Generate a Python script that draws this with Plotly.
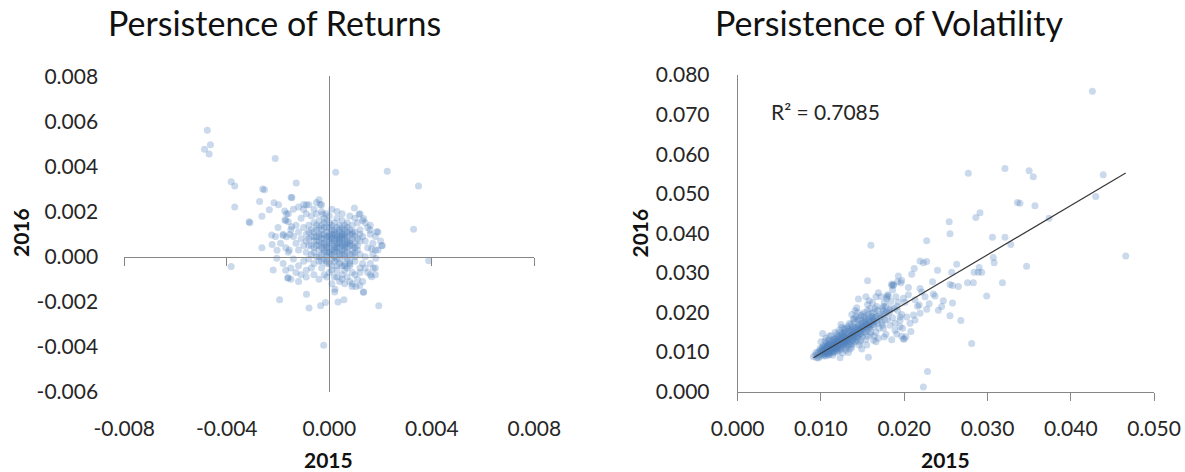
import plotly.graph_objects as go

# ---------------- data: returns (2015 vs 2016) ----------------
ret_outliers = [
    (-0.00476, 0.00561), (-0.00464, 0.00496), (-0.00487, 0.00476), (-0.00469, 0.00455),
    (-0.00211, 0.00436), (0.00025, 0.00374), (0.00226, 0.00379), (0.00348, 0.00313),
    (-0.00383, 0.00332), (-0.00369, 0.00313), (-0.00129, 0.00327), (-0.00260, 0.00300),
    (-0.00253, 0.00297), (-0.00149, 0.00264), (-0.00146, 0.00261), (-0.00369, 0.00220),
    (-0.00272, 0.00245), (-0.00310, 0.00151), (-0.00263, 0.00179), (-0.00234, 0.00208),
    (-0.00216, 0.00239), (-0.00198, 0.00230), (-0.00174, 0.00203), (-0.00167, 0.00191),
    (-0.00100, 0.00232), (-0.00089, 0.00230), (-0.00040, 0.00252), (-0.00036, 0.00232),
    (-0.00025, 0.00188), (-0.00012, 0.00191), (0.00098, 0.00216), (0.00116, 0.00188),
    (0.00134, 0.00169), (0.00329, 0.00122), (0.00207, 0.00050), (0.00388, -0.00018),
    (-0.00383, -0.00044), (-0.00263, 0.00040), (-0.00223, 0.00054), (-0.00204, 0.00029),
    (-0.00205, -0.00007), (-0.00219, -0.00059), (-0.00161, -0.00095), (-0.00194, -0.00191),
    (-0.00089, -0.00166), (-0.00079, -0.00228), (-0.00034, -0.00217), (-0.00015, -0.00203),
    (-0.00022, -0.00393), (0.00034, -0.00201), (0.00057, -0.00191), (0.00193, -0.00217),
    (0.00134, -0.00156), (0.00022, -0.00144), (0.00021, -0.00157), (0.00089, -0.00132),
    (0.00104, -0.00132), (0.00119, -0.00128), (-0.00313, 0.00155), (-0.00225, 0.00096),
    (-0.00180, 0.00094), (-0.00167, 0.00088), (-0.00154, 0.00098), (-0.00173, 0.00163),
    (-0.00160, 0.00155), (-0.00147, 0.00133), (-0.00156, 0.00030), (-0.00162, -0.00093),
    (0.00133, -0.00158), (0.00165, -0.00089), (0.00172, -0.00051), (0.00181, -0.00007),
    (0.00204, 0.00049), (0.00165, 0.00034), (0.00185, 0.00111), (0.00159, 0.00118),
]
ret_core = [
    (0.0000, 0.0007), (0.0001, 0.0009), (0.0002, 0.0005), (0.0003, 0.0008), (0.0004, 0.0006),
    (0.0005, 0.0010), (0.0006, 0.0004), (0.0007, 0.0007), (-0.0001, 0.0005), (-0.0002, 0.0008),
    (-0.0003, 0.0006), (-0.0004, 0.0010), (-0.0005, 0.0007), (-0.0006, 0.0004), (0.0001, 0.0003),
    (0.0002, 0.0012), (0.0003, 0.0002), (0.0004, 0.0011), (0.0005, 0.0003), (0.0006, 0.0009),
    (0.0008, 0.0005), (0.0009, 0.0008), (-0.0001, 0.0011), (-0.0002, 0.0002), (-0.0003, 0.0010),
    (-0.0004, 0.0003), (-0.0005, 0.0012), (-0.0007, 0.0009), (0.0000, 0.0001), (0.0001, 0.0014),
    (0.0002, 0.0000), (0.0003, 0.0013), (0.0004, 0.0001), (0.0005, 0.0006), (0.0006, 0.0012),
    (0.0007, 0.0002), (0.0008, 0.0010), (0.0009, 0.0003), (0.0010, 0.0006), (-0.0001, 0.0002),
    (-0.0002, 0.0013), (-0.0003, 0.0001), (-0.0004, 0.0007), (-0.0006, 0.0011), (-0.0007, 0.0005),
    (-0.0008, 0.0008), (0.0000, 0.0010), (0.0002, 0.0008), (0.0003, 0.0005), (0.0004, 0.0009),
    (0.0006, 0.0006), (0.0007, 0.0011), (0.0008, 0.0001), (0.0001, 0.0006), (-0.0001, 0.0008),
    (-0.0002, 0.0005), (0.0000, 0.0004), (0.0003, 0.0010), (0.0005, 0.0008), (0.0007, 0.0004),
    (0.0002, 0.0003), (0.0004, 0.0004), (-0.0003, 0.0004), (-0.0005, 0.0005), (0.0006, 0.0001),
    (0.0009, 0.0011), (0.0010, 0.0002), (0.0011, 0.0008), (-0.0006, 0.0007), (-0.0009, 0.0010),
    (0.0000, 0.0013), (0.0001, -0.0001), (0.0003, -0.0001), (0.0005, 0.0013), (-0.0004, 0.0013),
    (-0.0002, -0.0001), (0.0008, 0.0007), (0.0006, 0.0003), (0.0002, 0.0010), (-0.0001, 0.0000),
    (0.0008, -0.0004), (0.0006, -0.0006), (0.0004, -0.0003), (0.0009, -0.0007), (0.0010, -0.0002),
    (0.0012, -0.0005), (0.0007, -0.0009), (0.0005, -0.0008), (0.0003, -0.0006), (0.0001, -0.0004),
    (-0.0001, -0.0003), (0.0002, -0.0009), (0.0011, -0.0010), (0.0013, -0.0003), (0.0014, 0.0000),
    (0.0015, 0.0004), (0.0013, 0.0009), (0.0012, 0.0012), (0.0011, 0.0015), (0.0010, 0.0004),
    (0.0012, 0.0001), (0.0014, 0.0007), (0.0016, 0.0010), (0.0009, 0.0014), (0.0007, 0.0015),
    (0.0005, 0.0016), (0.0003, 0.0017), (0.0000, 0.0018), (-0.0002, 0.0017), (-0.0004, 0.0016),
    (-0.0006, 0.0015), (-0.0008, 0.0014), (-0.0010, 0.0013), (-0.0012, 0.0011), (-0.0011, 0.0008),
    (-0.0013, 0.0006), (-0.0010, 0.0005), (-0.0009, 0.0002), (-0.0012, 0.0003), (-0.0014, 0.0009),
    (-0.0015, 0.0012), (-0.0013, 0.0014), (-0.0011, 0.0017), (-0.0009, 0.0019), (-0.0007, 0.0018),
    (-0.0005, 0.0019), (-0.0003, 0.0020), (-0.0001, 0.0016), (-0.0007, 0.0001), (-0.0005, 0.0000),
    (-0.0008, -0.0001), (-0.0006, -0.0003), (-0.0004, -0.0002), (-0.0003, -0.0005), (-0.0010, -0.0002),
    (-0.0012, -0.0004), (-0.0014, -0.0001), (-0.0016, 0.0002), (-0.0009, -0.0006), (-0.0011, -0.0008),
    (-0.0013, -0.0007), (-0.0007, -0.0005), (0.0000, -0.0007), (-0.0002, -0.0008), (0.0004, -0.0011),
    (0.0006, -0.0012), (0.0008, -0.0011), (0.0010, -0.0008), (0.0012, -0.0007), (0.0014, -0.0005),
    (0.0016, -0.0003), (0.0017, 0.0001), (0.0017, 0.0006), (0.0015, 0.0013), (0.0013, 0.0016),
    (0.0018, 0.0009), (0.0018, -0.0008), (0.0016, -0.0008), (0.0019, 0.0003), (0.0001, -0.0012),
    (-0.0017, 0.0016), (-0.0018, 0.0010), (-0.0019, 0.0006), (-0.0016, 0.0019), (-0.0014, 0.0021),
    (-0.0012, 0.0022), (-0.0010, 0.0021), (-0.0008, 0.0023), (-0.0006, 0.0021), (-0.0005, 0.0024),
    (-0.0003, 0.0023), (0.0001, 0.0021), (0.0003, 0.0020), (0.0005, 0.0019), (0.0008, 0.0018),
    (0.0010, 0.0017), (0.0012, 0.0019), (0.0014, 0.0015), (0.0016, 0.0014), (0.0019, 0.0011),
    (-0.0017, 0.0004), (-0.0018, -0.0003), (-0.0015, -0.0005), (-0.0017, -0.0006), (-0.0015, -0.0010),
    (-0.0012, -0.0011), (-0.0009, -0.0009), (-0.0006, -0.0008), (-0.0004, -0.0010), (-0.0001, -0.0009),
    (0.0003, -0.0009), (0.0005, -0.0010), (0.0009, -0.0012), (0.0013, -0.0011), (0.0015, -0.0007),
    (0.0018, -0.0005), (0.0018, 0.0003), (0.0020, 0.0007), (-0.0020, 0.0013), (-0.0021, 0.0009),
]
ret_dense = [
    (0.0001, 0.0008), (0.0002, 0.0007), (0.0003, 0.0009), (0.0004, 0.0007), (0.0005, 0.0009),
    (0.0006, 0.0008), (0.0007, 0.0009), (0.0008, 0.0006), (0.0002, 0.0011), (0.0004, 0.0012),
    (0.0006, 0.0010), (0.0001, 0.0012), (0.0003, 0.0004), (0.0005, 0.0005), (0.0007, 0.0006),
    (0.0009, 0.0005), (0.0000, 0.0006), (-0.0001, 0.0009), (-0.0002, 0.0010), (-0.0003, 0.0008),
    (-0.0004, 0.0009), (-0.0005, 0.0009), (-0.0006, 0.0009), (-0.0004, 0.0005), (-0.0002, 0.0006),
    (-0.0001, 0.0004), (0.0000, 0.0002), (0.0001, 0.0001), (0.0002, 0.0002), (0.0004, 0.0002),
    (0.0005, 0.0001), (0.0006, 0.0000), (0.0007, -0.0001), (0.0008, -0.0002), (0.0006, -0.0003),
    (0.0005, -0.0004), (0.0007, -0.0005), (0.0006, -0.0004), (0.0008, -0.0003), (0.0004, -0.0001),
    (0.0002, -0.0002), (0.0009, 0.0001), (0.0010, 0.0000), (0.0011, 0.0003), (0.0011, 0.0005),
    (0.0012, 0.0007), (0.0010, 0.0009), (0.0009, 0.0010), (0.0008, 0.0012), (0.0006, 0.0014),
    (0.0004, 0.0014), (0.0002, 0.0015), (0.0000, 0.0015), (-0.0002, 0.0015), (-0.0003, 0.0014),
    (-0.0005, 0.0014), (-0.0007, 0.0012), (-0.0008, 0.0011), (-0.0009, 0.0007), (-0.0008, 0.0005),
    (-0.0006, 0.0002), (-0.0004, 0.0000), (-0.0003, -0.0002), (-0.0001, -0.0002), (0.0000, -0.0003),
    (0.0001, -0.0006), (0.0003, -0.0004), (-0.0002, 0.0003), (-0.0003, 0.0012), (0.0001, 0.0010),
    (0.0003, 0.0006), (0.0005, 0.0011), (0.0007, 0.0013), (0.0010, 0.0011), (0.0012, 0.0010),
    (-0.0001, 0.0013), (0.0000, 0.0009), (0.0002, 0.0004), (0.0004, 0.0008), (0.0006, 0.0005),
]

# ---------------- data: volatility (2015 vs 2016) ----------------
vol_outliers = [
    (0.0426, 0.0759), (0.0439, 0.0548), (0.0430, 0.0493), (0.0466, 0.0343), (0.0281, 0.0122),
    (0.0228, 0.0051), (0.0223, 0.0012), (0.0277, 0.0552), (0.0321, 0.0564), (0.0350, 0.0558),
    (0.0355, 0.0543), (0.0336, 0.0478), (0.0339, 0.0476), (0.0357, 0.0470), (0.0374, 0.0438),
    (0.0291, 0.0452), (0.0286, 0.0440), (0.0254, 0.0429), (0.0255, 0.0399), (0.0227, 0.0381),
    (0.0306, 0.0390), (0.0321, 0.0390), (0.0328, 0.0372), (0.0307, 0.0339), (0.0308, 0.0326),
    (0.0347, 0.0317), (0.0290, 0.0314), (0.0289, 0.0302), (0.0293, 0.0302), (0.0284, 0.0302),
    (0.0263, 0.0322), (0.0257, 0.0302), (0.0240, 0.0307), (0.0276, 0.0275), (0.0283, 0.0275),
    (0.0318, 0.0275), (0.0299, 0.0242), (0.0255, 0.0271), (0.0265, 0.0266), (0.0258, 0.0268),
    (0.0258, 0.0224), (0.0255, 0.0192), (0.0268, 0.0180), (0.0160, 0.0370), (0.0156, 0.0280),
    (0.0157, 0.0087), (0.0234, 0.0278),
]
vol_mid = [
    (0.0227, 0.0329), (0.0223, 0.0326), (0.0219, 0.0330), (0.0212, 0.0311), (0.0209, 0.0297),
    (0.0193, 0.0292), (0.0197, 0.0281), (0.0219, 0.0261), (0.0187, 0.0269), (0.0186, 0.0257),
    (0.0205, 0.0263), (0.0235, 0.0247), (0.0237, 0.0242), (0.0225, 0.0240), (0.0199, 0.0236),
    (0.0181, 0.0242), (0.0247, 0.0230), (0.0216, 0.0216), (0.0218, 0.0219), (0.0230, 0.0222),
    (0.0241, 0.0206), (0.0227, 0.0208), (0.0245, 0.0215), (0.0185, 0.0272), (0.0192, 0.0278),
    (0.0179, 0.0240), (0.0175, 0.0215), (0.0183, 0.0206), (0.0191, 0.0215), (0.0195, 0.0189),
    (0.0203, 0.0189), (0.0211, 0.0194), (0.0189, 0.0173), (0.0207, 0.0173), (0.0213, 0.0181),
    (0.0177, 0.0181), (0.0195, 0.0164), (0.0219, 0.0198), (0.0213, 0.0232), (0.0205, 0.0245),
    (0.0221, 0.0252), (0.0201, 0.0226), (0.0208, 0.0152), (0.0197, 0.0140),
]
vol_core = [
    (0.0091, 0.0088), (0.0093, 0.0092), (0.0095, 0.0086), (0.0096, 0.0095), (0.0097, 0.0101),
    (0.0098, 0.0089), (0.0099, 0.0110), (0.0100, 0.0093), (0.0094, 0.0099), (0.0100, 0.0126),
    (0.0099, 0.0104), (0.0097, 0.0085), (0.0102, 0.0147), (0.0101, 0.0098), (0.0103, 0.0090),
    (0.0104, 0.0105), (0.0105, 0.0096), (0.0106, 0.0112), (0.0107, 0.0100), (0.0108, 0.0118),
    (0.0109, 0.0093), (0.0105, 0.0128), (0.0106, 0.0135), (0.0108, 0.0107), (0.0110, 0.0101),
    (0.0103, 0.0117), (0.0107, 0.0124), (0.0109, 0.0113), (0.0110, 0.0140), (0.0104, 0.0109),
    (0.0108, 0.0097), (0.0110, 0.0119), (0.0106, 0.0090), (0.0102, 0.0112), (0.0109, 0.0130),
    (0.0111, 0.0108), (0.0105, 0.0102), (0.0107, 0.0115), (0.0110, 0.0094), (0.0103, 0.0097),
    (0.0112, 0.0104), (0.0113, 0.0121), (0.0114, 0.0112), (0.0115, 0.0098), (0.0116, 0.0127),
    (0.0117, 0.0110), (0.0118, 0.0135), (0.0119, 0.0117), (0.0120, 0.0103), (0.0112, 0.0142),
    (0.0114, 0.0131), (0.0116, 0.0106), (0.0118, 0.0122), (0.0120, 0.0128), (0.0113, 0.0100),
    (0.0115, 0.0116), (0.0117, 0.0150), (0.0119, 0.0108), (0.0121, 0.0139), (0.0111, 0.0123),
    (0.0114, 0.0092), (0.0116, 0.0119), (0.0118, 0.0101), (0.0120, 0.0116), (0.0112, 0.0114),
    (0.0115, 0.0133), (0.0117, 0.0125), (0.0119, 0.0145), (0.0121, 0.0111), (0.0113, 0.0108),
    (0.0122, 0.0120), (0.0123, 0.0132), (0.0124, 0.0108), (0.0125, 0.0140), (0.0126, 0.0125),
    (0.0127, 0.0115), (0.0128, 0.0150), (0.0129, 0.0131), (0.0130, 0.0120), (0.0122, 0.0155),
    (0.0124, 0.0128), (0.0126, 0.0098), (0.0128, 0.0137), (0.0130, 0.0144), (0.0123, 0.0113),
    (0.0125, 0.0162), (0.0127, 0.0127), (0.0129, 0.0110), (0.0131, 0.0135), (0.0122, 0.0104),
    (0.0124, 0.0170), (0.0126, 0.0146), (0.0128, 0.0122), (0.0130, 0.0105), (0.0123, 0.0086),
    (0.0125, 0.0118), (0.0127, 0.0140), (0.0129, 0.0158), (0.0131, 0.0126), (0.0124, 0.0135),
    (0.0132, 0.0130), (0.0133, 0.0145), (0.0134, 0.0120), (0.0135, 0.0155), (0.0136, 0.0138),
    (0.0137, 0.0112), (0.0138, 0.0165), (0.0139, 0.0148), (0.0140, 0.0127), (0.0132, 0.0160),
    (0.0134, 0.0139), (0.0136, 0.0118), (0.0138, 0.0150), (0.0140, 0.0175), (0.0133, 0.0128),
    (0.0135, 0.0108), (0.0137, 0.0143), (0.0139, 0.0183), (0.0141, 0.0136), (0.0132, 0.0115),
    (0.0134, 0.0172), (0.0136, 0.0153), (0.0138, 0.0130), (0.0140, 0.0158), (0.0133, 0.0099),
    (0.0137, 0.0195), (0.0139, 0.0122), (0.0141, 0.0205), (0.0142, 0.0148), (0.0143, 0.0160),
    (0.0144, 0.0135), (0.0145, 0.0170), (0.0146, 0.0152), (0.0147, 0.0125), (0.0148, 0.0180),
    (0.0149, 0.0162), (0.0150, 0.0140), (0.0142, 0.0190), (0.0144, 0.0157), (0.0146, 0.0118),
    (0.0148, 0.0145), (0.0150, 0.0195), (0.0143, 0.0212), (0.0145, 0.0140), (0.0147, 0.0167),
    (0.0149, 0.0108), (0.0151, 0.0175), (0.0142, 0.0128), (0.0144, 0.0200), (0.0146, 0.0185),
    (0.0148, 0.0130), (0.0150, 0.0160), (0.0145, 0.0234), (0.0152, 0.0165), (0.0153, 0.0150),
    (0.0154, 0.0185), (0.0155, 0.0172), (0.0156, 0.0140), (0.0157, 0.0195), (0.0158, 0.0160),
    (0.0159, 0.0210), (0.0160, 0.0178), (0.0152, 0.0200), (0.0154, 0.0132), (0.0156, 0.0220),
    (0.0158, 0.0188), (0.0160, 0.0150), (0.0153, 0.0177), (0.0155, 0.0118), (0.0157, 0.0168),
    (0.0159, 0.0145), (0.0161, 0.0198), (0.0154, 0.0240), (0.0156, 0.0162), (0.0158, 0.0230),
    (0.0162, 0.0180), (0.0163, 0.0165), (0.0164, 0.0200), (0.0165, 0.0188), (0.0166, 0.0150),
    (0.0167, 0.0215), (0.0168, 0.0172), (0.0169, 0.0135), (0.0170, 0.0195), (0.0162, 0.0225),
    (0.0164, 0.0140), (0.0166, 0.0240), (0.0168, 0.0205), (0.0170, 0.0160), (0.0163, 0.0130),
    (0.0165, 0.0210), (0.0167, 0.0178), (0.0169, 0.0250), (0.0164, 0.0183), (0.0166, 0.0126),
    (0.0172, 0.0190), (0.0173, 0.0175), (0.0174, 0.0210), (0.0175, 0.0160), (0.0176, 0.0225),
    (0.0177, 0.0198), (0.0178, 0.0145), (0.0179, 0.0235), (0.0180, 0.0183), (0.0172, 0.0240),
    (0.0174, 0.0168), (0.0176, 0.0138), (0.0178, 0.0215), (0.0180, 0.0245), (0.0175, 0.0195),
    (0.0182, 0.0200), (0.0183, 0.0168), (0.0184, 0.0228), (0.0185, 0.0131), (0.0186, 0.0187),
    (0.0187, 0.0270), (0.0188, 0.0210), (0.0189, 0.0155), (0.0190, 0.0240), (0.0185, 0.0268),
    (0.0191, 0.0146), (0.0192, 0.0205), (0.0193, 0.0226), (0.0195, 0.0180), (0.0196, 0.0275),
    (0.0197, 0.0195), (0.0198, 0.0160), (0.0199, 0.0133), (0.0200, 0.0133), (0.0202, 0.0139),
]
vol_dense = [
    (0.0100, 0.0100), (0.0102, 0.0104), (0.0104, 0.0101), (0.0106, 0.0108), (0.0108, 0.0111),
    (0.0110, 0.0106), (0.0112, 0.0110), (0.0114, 0.0116), (0.0116, 0.0113), (0.0118, 0.0118),
    (0.0120, 0.0121), (0.0122, 0.0126), (0.0124, 0.0123), (0.0126, 0.0130), (0.0128, 0.0128),
    (0.0130, 0.0133), (0.0132, 0.0137), (0.0134, 0.0134), (0.0136, 0.0141), (0.0138, 0.0144),
    (0.0140, 0.0140), (0.0142, 0.0152), (0.0144, 0.0146), (0.0146, 0.0158), (0.0148, 0.0155),
    (0.0150, 0.0165), (0.0152, 0.0158), (0.0154, 0.0170), (0.0156, 0.0168), (0.0158, 0.0175),
    (0.0160, 0.0170), (0.0162, 0.0185), (0.0164, 0.0176), (0.0101, 0.0108), (0.0105, 0.0114),
    (0.0109, 0.0120), (0.0113, 0.0126), (0.0117, 0.0131), (0.0121, 0.0134), (0.0125, 0.0145),
    (0.0129, 0.0148), (0.0133, 0.0153), (0.0137, 0.0158), (0.0141, 0.0163), (0.0145, 0.0165),
    (0.0149, 0.0172), (0.0153, 0.0180), (0.0157, 0.0182), (0.0161, 0.0190), (0.0103, 0.0094),
    (0.0107, 0.0096), (0.0111, 0.0099), (0.0115, 0.0103), (0.0119, 0.0110), (0.0123, 0.0117),
    (0.0127, 0.0121), (0.0131, 0.0124), (0.0135, 0.0127), (0.0139, 0.0133), (0.0143, 0.0140),
    (0.0147, 0.0146), (0.0151, 0.0150), (0.0155, 0.0156), (0.0159, 0.0165), (0.0163, 0.0170),
    (0.0167, 0.0190), (0.0171, 0.0185), (0.0175, 0.0205), (0.0179, 0.0200), (0.0183, 0.0210),
    (0.0120, 0.0140), (0.0124, 0.0150), (0.0128, 0.0160), (0.0132, 0.0165), (0.0136, 0.0170),
    (0.0140, 0.0185), (0.0144, 0.0182), (0.0148, 0.0192), (0.0152, 0.0190), (0.0156, 0.0205),
]

# trend line (linear fit shown on chart) and its R^2 label
trend_slope = 1.244
trend_intercept = -0.00274
r2_label = "R² = 0.7085"

# tick values / labels
ret_x_ticks = [-0.008, -0.004, 0.0, 0.004, 0.008]
ret_x_labels = ["-0.008", "-0.004", "0.000", "0.004", "0.008"]
ret_y_ticks = [-0.006, -0.004, -0.002, 0.0, 0.002, 0.004, 0.006, 0.008]
ret_y_labels = ["-0.006", "-0.004", "-0.002", "0.000", "0.002", "0.004", "0.006", "0.008"]
vol_x_ticks = [0.0, 0.01, 0.02, 0.03, 0.04, 0.05]
vol_x_labels = ["0.000", "0.010", "0.020", "0.030", "0.040", "0.050"]
vol_y_ticks = [0.0, 0.01, 0.02, 0.03, 0.04, 0.05, 0.06, 0.07, 0.08]
vol_y_labels = ["0.000", "0.010", "0.020", "0.030", "0.040", "0.050", "0.060", "0.070", "0.080"]

titles = ["Persistence of Returns", "Persistence of Volatility"]
x_title = "2015"
y_title = "2016"

# ---------------- build ----------------
ret_pts = ret_outliers + ret_core + ret_dense
ret_2015 = [p[0] for p in ret_pts]
ret_2016 = [p[1] for p in ret_pts]
vol_pts = vol_outliers + vol_mid + vol_core + vol_dense
vol_2015 = [p[0] for p in vol_pts]
vol_2016 = [p[1] for p in vol_pts]

W, H = 1185, 472
FONT = "Lato, 'Open Sans', Arial, sans-serif"
AX = "#868686"
TXT = "#262626"
MARK = dict(color="rgb(79,129,189)", size=7, opacity=0.3, line=dict(width=0))

def px_x(p):
    return p / W

def px_y(p):
    return 1 - p / H

fig = go.Figure()
fig.add_trace(go.Scatter(x=ret_2015, y=ret_2016, mode="markers", marker=MARK,
                         xaxis="x", yaxis="y", showlegend=False, hoverinfo="x+y"))
# helper (empty) trace so the crossing axis at y=0 is drawn
fig.add_trace(go.Scatter(x=[], y=[], xaxis="x3", yaxis="y", showlegend=False))
fig.add_trace(go.Scatter(x=vol_2015, y=vol_2016, mode="markers", marker=MARK,
                         xaxis="x2", yaxis="y2", showlegend=False, hoverinfo="x+y"))
xmin, xmax = min(vol_2015), max(vol_2015)
fig.add_trace(go.Scatter(x=[xmin, xmax],
                         y=[trend_intercept + trend_slope * xmin, trend_intercept + trend_slope * xmax],
                         mode="lines", line=dict(color="#3a3a3a", width=1.2),
                         xaxis="x2", yaxis="y2", showlegend=False, hoverinfo="skip"))

tickfont = dict(family=FONT, size=21, color=TXT)
left_xdom = [px_x(124.3), px_x(534.3)]
left_ydom = [px_y(392.0), px_y(76.3)]
right_xdom = [px_x(737.7), px_x(1154.0)]
right_ydom = [px_y(391.7), px_y(75.0)]
zero_pos = px_y(256.7)

fig.update_layout(
    width=W, height=H,
    margin=dict(l=0, r=0, t=0, b=0, autoexpand=False),
    paper_bgcolor="white", plot_bgcolor="white",
    font=dict(family=FONT, color=TXT),
    xaxis=dict(domain=left_xdom, range=[-0.008, 0.008], tickvals=ret_x_ticks, ticktext=ret_x_labels,
               showgrid=False, showline=False, zeroline=True, zerolinecolor=AX, zerolinewidth=1,
               ticks="outside", ticklen=8, tickcolor="rgba(0,0,0,0)", ticklabelstandoff=10,
               tickfont=tickfont, anchor="y", automargin=False),
    xaxis3=dict(domain=left_xdom, range=[-0.008, 0.008], tickvals=ret_x_ticks, overlaying="x",
                anchor="free", position=zero_pos, showgrid=False, zeroline=False,
                showline=True, linecolor=AX, linewidth=1, ticks="outside", ticklen=8,
                tickcolor=AX, tickwidth=1, showticklabels=False, automargin=False),
    yaxis=dict(domain=left_ydom, range=[-0.006, 0.008], tickvals=ret_y_ticks, ticktext=ret_y_labels,
               showgrid=False, showline=False, zeroline=False,
               ticks="outside", ticklen=8, tickcolor="rgba(0,0,0,0)", ticklabelstandoff=13,
               tickfont=tickfont, anchor="x", automargin=False),
    xaxis2=dict(domain=right_xdom, range=[0, 0.05], tickvals=vol_x_ticks, ticktext=vol_x_labels,
                showgrid=False, zeroline=False, showline=True, linecolor=AX, linewidth=1,
                ticks="outside", ticklen=8, tickcolor=AX, tickwidth=1, ticklabelstandoff=10,
                tickfont=tickfont, anchor="y2", automargin=False),
    yaxis2=dict(domain=right_ydom, range=[0, 0.08], tickvals=vol_y_ticks, ticktext=vol_y_labels,
                showgrid=False, zeroline=False, showline=True, linecolor=AX, linewidth=1,
                ticks="outside", ticklen=8, tickcolor="rgba(0,0,0,0)", ticklabelstandoff=15,
                tickfont=tickfont, anchor="x2", automargin=False),
)

ann = []
ann.append(dict(text=titles[0], x=px_x(274), y=px_y(23), xref="paper", yref="paper",
                xanchor="center", yanchor="middle", showarrow=False,
                font=dict(family=FONT, size=34, color="#111111")))
ann.append(dict(text=titles[1], x=px_x(889), y=px_y(23), xref="paper", yref="paper",
                xanchor="center", yanchor="middle", showarrow=False,
                font=dict(family=FONT, size=34, color="#111111")))
for cx in (328.3, 945.0):
    ann.append(dict(text="<b>%s</b>" % x_title, x=px_x(cx), y=px_y(459), xref="paper", yref="paper",
                    xanchor="center", yanchor="middle", showarrow=False,
                    font=dict(family=FONT, size=21, color="#111111")))
for cx in (20.0, 638.5):
    ann.append(dict(text="<b>%s</b>" % y_title, x=px_x(cx), y=px_y(233), xref="paper", yref="paper",
                    xanchor="center", yanchor="middle", showarrow=False, textangle=-90,
                    font=dict(family=FONT, size=21, color="#111111")))
ann.append(dict(text=r2_label, x=px_x(768.5), y=px_y(111.7), xref="paper", yref="paper",
                xanchor="left", yanchor="middle", showarrow=False,
                font=dict(family=FONT, size=21, color=TXT)))
fig.update_layout(annotations=ann)

fig.write_html("out.html")
